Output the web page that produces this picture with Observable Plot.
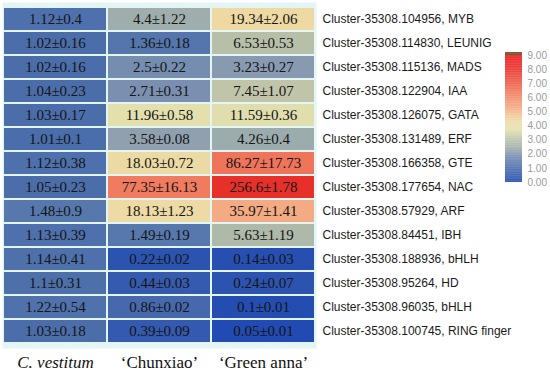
<!DOCTYPE html>
<html>
<head>
<meta charset="utf-8">
<script src="https://cdn.jsdelivr.net/npm/d3@7"></script>
<script src="https://cdn.jsdelivr.net/npm/@observablehq/plot@0.6"></script>
<style>
  html, body { margin: 0; padding: 0; background: #fff; }
  #wrap { position: relative; width: 550px; height: 371px; }
  #legend { position: absolute; left: 498px; top: 40px; }
</style>
</head>
<body>
<div id="wrap"><div id="main"></div><div id="legend"></div></div>
<script>
const genes = [
  "Cluster-35308.104956, MYB",
  "Cluster-35308.114830, LEUNIG",
  "Cluster-35308.115136, MADS",
  "Cluster-35308.122904, IAA",
  "Cluster-35308.126075, GATA",
  "Cluster-35308.131489, ERF",
  "Cluster-35308.166358, GTE",
  "Cluster-35308.177654, NAC",
  "Cluster-35308.57929, ARF",
  "Cluster-35308.84451, IBH",
  "Cluster-35308.188936, bHLH",
  "Cluster-35308.95264, HD",
  "Cluster-35308.96035, bHLH",
  "Cluster-35308.100745, RING finger"
];
const samples = ["C. vestitum", "\u2018Chunxiao\u2019", "\u2018Green anna\u2019"];

const cvMean = [1.12, 1.02, 1.02, 1.04, 1.03, 1.01, 1.12, 1.05, 1.48, 1.13, 1.14, 1.1, 1.22, 1.03];
const cvSd   = [0.4, 0.16, 0.16, 0.23, 0.17, 0.1, 0.38, 0.23, 0.9, 0.39, 0.41, 0.31, 0.54, 0.18];
const cxMean = [4.4, 1.36, 2.5, 2.71, 11.96, 3.58, 18.03, 77.35, 18.13, 1.49, 0.22, 0.44, 0.86, 0.39];
const cxSd   = [1.22, 0.18, 0.22, 0.31, 0.58, 0.08, 0.72, 16.13, 1.23, 0.19, 0.02, 0.03, 0.02, 0.09];
const gaMean = [19.34, 6.53, 3.23, 7.45, 11.59, 4.26, 86.27, 256.6, 35.97, 5.63, 0.14, 0.24, 0.1, 0.05];
const gaSd   = [2.06, 0.53, 0.27, 1.07, 0.36, 0.4, 17.73, 1.78, 1.41, 1.19, 0.03, 0.07, 0.01, 0.01];

const legendTicks = [0, 1, 2, 3, 4, 5, 6, 7, 8, 9];

const means = [cvMean, cxMean, gaMean];
const sds = [cvSd, cxSd, gaSd];
const table = [];
samples.forEach((s, j) => {
  genes.forEach((g, i) => {
    table.push({sample: s, gene: g, mean: means[j][i], sd: sds[j][i],
      level: Math.log2(means[j][i] + 1), label: `${means[j][i]}\u00b1${sds[j][i]}`});
  });
});

const colorDomain = [0, 1, 1.5, 2, 2.5, 3, 3.7, 4.35, 5.2, 6.3, 7, 8, 8.9, 9];
const colorRange = ["#1e48b2", "#4a6dab", "#5f7fae", "#8395b0", "#a3b2ab", "#bbc2a8", "#e4e0ae",
                    "#eed9a3", "#f4aa82", "#f07b5e", "#ec5a45", "#e8302a", "#ee1818", "#7e3a1c"];
const colorOpts = {type: "linear", domain: colorDomain, range: colorRange, interpolate: "rgb", clamp: true};

const main = Plot.plot({
  width: 550,
  height: 371,
  marginTop: 2,
  marginBottom: 23,
  marginLeft: 2,
  marginRight: 234,
  style: {background: "#fff"},
  x: {domain: samples, padding: 0, label: null},
  y: {domain: genes, padding: 0, label: null},
  color: colorOpts,
  marks: [
    Plot.frame({fill: "#e4f5f5", stroke: null}),
    Plot.cell(table, {x: "sample", y: "gene", fill: "level", inset: 1}),
    Plot.text(table, {x: "sample", y: "gene", text: "label", fontSize: 15,
      fontFamily: "Liberation Serif", fill: "#151515"}),
    Plot.axisY({anchor: "right", tickSize: 0, tickPadding: 6, fontSize: 12,
      fontFamily: "Liberation Sans", fill: "#1a1a1a", label: null}),
    Plot.axisX({anchor: "bottom", tickSize: 0, tickPadding: 7, fontSize: 17,
      fontFamily: "Liberation Serif", fill: "#111", label: null})
  ]
});
d3.select(main).selectAll("text")
  .filter(function() { return this.textContent === samples[0]; })
  .attr("font-style", "italic");
document.getElementById("main").append(main);

const step = 0.05;
const bands = d3.range(0, 9.2, step).map(v => ({v}));
const legend = Plot.plot({
  width: 50,
  height: 150,
  marginTop: 15,
  marginBottom: 8,
  marginLeft: 7,
  marginRight: 26,
  y: {domain: [0, 9], label: null},
  color: colorOpts,
  marks: [
    Plot.rectY(bands, {y1: "v", y2: d => d.v + step + 0.01, fill: "v"}),
    Plot.axisY(legendTicks, {anchor: "right", tickSize: 0, tickPadding: 5, fontSize: 10,
      fontFamily: "Liberation Sans", fill: "#9a9a9a", tickFormat: d => d.toFixed(2), label: null})
  ]
});
document.getElementById("legend").append(legend);
</script>
</body>
</html>
